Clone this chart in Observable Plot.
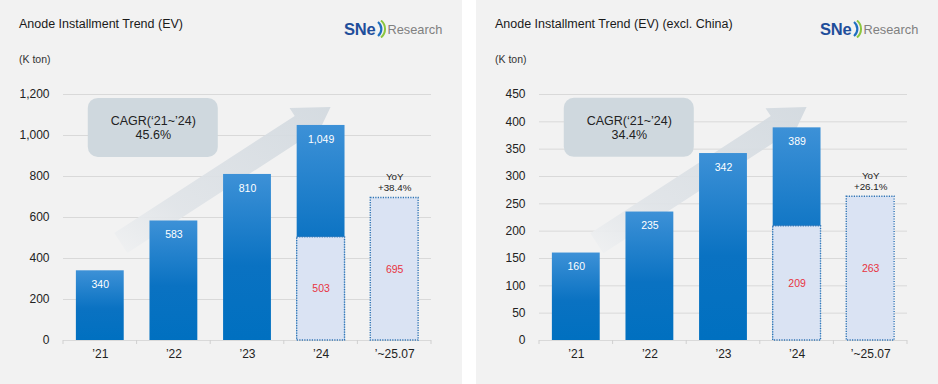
<!DOCTYPE html>
<html>
<head>
<meta charset="utf-8">
<script src="https://cdn.jsdelivr.net/npm/d3@7"></script>
<script src="https://cdn.jsdelivr.net/npm/@observablehq/plot@0.6"></script>
<style>
  body { margin: 0; background: #fff; font-family: "Liberation Sans", Arial, sans-serif; }
  #wrap { position: relative; width: 938px; height: 384px; overflow: hidden; }
  .panel { position: absolute; top: 0; width: 462px; height: 384px; background: #f2f2f2; }
  .title { position: absolute; left: 19px; top: 17px; font-size: 12.5px; color: #1a1a1a; white-space: nowrap; }
  .unit { position: absolute; left: 19px; top: 53px; font-size: 10.5px; color: #333; }
  .logo { position: absolute; left: 344px; top: 19px; height: 20px; display: flex; align-items: center; white-space: nowrap; }
  .logo b { font-size: 16.5px; color: #1f4e9b; letter-spacing: -0.2px; font-weight: bold; }
  .logo span { font-size: 12.8px; color: #808080; margin-left: 1px; }
  .chart { position: absolute; left: 0; top: 70px; }
</style>
</head>
<body>
<svg width="0" height="0" style="position:absolute">
  <defs>
    <linearGradient id="barGrad" x1="0" y1="0" x2="0" y2="1">
      <stop offset="0" stop-color="#3d91d7"/>
      <stop offset="0.55" stop-color="#0a72c2"/>
      <stop offset="1" stop-color="#0070c0"/>
    </linearGradient>
    <linearGradient id="arrowGrad" x1="0" y1="1" x2="1" y2="0">
      <stop offset="0" stop-color="#f0f1f2"/>
      <stop offset="0.3" stop-color="#e0e4e8"/>
      <stop offset="1" stop-color="#d2d9df"/>
    </linearGradient>
  </defs>
</svg>
<div id="wrap"></div>
<script>
// ---------- data ----------
const categories = ["’21", "’22", "’23", "’24", "’~25.07"];
const evTotal = [340, 583, 810, 1049, null];
const evYtd = [null, null, null, 503, 695];
const exTotal = [160, 235, 342, 389, null];
const exYtd = [null, null, null, 209, 263];
const evTicks = [0, 200, 400, 600, 800, 1000, 1200];
const exTicks = [0, 50, 100, 150, 200, 250, 300, 350, 400, 450];
const titles = ["Anode Installment Trend (EV)", "Anode Installment Trend (EV) (excl. China)"];
const unitLabel = "(K ton)";
const cagrLabel = "CAGR(‘21~’24)";
const cagrValues = ["45.6%", "34.4%"];
const yoyLabel = "YoY";
const yoyValues = ["+38.4%", "+26.1%"];
// annotation anchors, in data values (box centre level, arrow start / tip level)
const cagrBoxLevel = [1037, 389];
const arrowFromLevel = [473, 177];
const arrowToLevel = [1137, 426];

// ---------- drawing ----------
const fmt = d3.format(",");
const FONT = '"Liberation Sans", Arial, sans-serif';

function arrowMark(fromCat, fromVal, toCat, toVal) {
  return (index, scales) => {
    const {x, y} = scales;
    const bw = x.bandwidth();
    const S = [x(fromCat) + bw / 2 + 21, y(fromVal)];
    const T = [x(toCat) + bw / 2 + 10, y(toVal)];
    const dx = T[0] - S[0], dy = T[1] - S[1], len = Math.hypot(dx, dy);
    const u = [dx / len, dy / len], n = [-u[1], u[0]];
    const L = 35, H = 21.5, W = 12;
    const B = [T[0] - L * u[0], T[1] - L * u[1]];
    const p = (P, k) => [P[0] + k * n[0], P[1] + k * n[1]];
    const pts = [p(S, W), p(B, W), p(B, H), T, p(B, -H), p(B, -W), p(S, -W)];
    return d3.create("svg:path")
      .attr("d", "M" + pts.map(q => q.join(",")).join("L") + "Z")
      .attr("fill", "url(#arrowGrad)")
      .attr("fill-opacity", 0.92)
      .node();
  };
}

function boxMark(cat, val) {
  return (index, scales) => {
    const {x, y} = scales;
    const cx = x(cat) + x.bandwidth() / 2 + 53, cy = y(val);
    return d3.create("svg:rect")
      .attr("x", cx - 65).attr("y", cy - 29.5)
      .attr("width", 130).attr("height", 59)
      .attr("rx", 10).attr("fill", "#cfd8de")
      .node();
  };
}

function boundaryTicks(index, scales, values, dimensions) {
  const {width, marginLeft, marginRight} = dimensions;
  const y0 = scales.y(0);
  const n = categories.length;
  const step = (width - marginLeft - marginRight) / n;
  const g = d3.create("svg:g").attr("stroke", "#d0d0d0");
  for (let i = 0; i <= n; i++) {
    const xx = marginLeft + i * step;
    g.append("line").attr("x1", xx).attr("x2", xx).attr("y1", y0).attr("y2", y0 + 4);
  }
  return g.node();
}

function makeChart(k, total, ytd, ticks) {
  const rows = categories.map((c, i) => ({cat: c, total: total[i], ytd: ytd[i]}));
  const totalRows = rows.filter(d => d.total != null);
  const ytdRows = rows.filter(d => d.ytd != null);
  const last = [rows[rows.length - 1]];
  return Plot.plot({
    width: 462,
    height: 300,
    marginTop: 24,
    marginBottom: 30,
    marginLeft: 63,
    marginRight: 31,
    style: {background: "transparent", fontFamily: FONT, fontSize: "12px", color: "#222", overflow: "visible"},
    x: {domain: categories, paddingInner: 0.35, paddingOuter: 0.175, round: false, label: null, tickSize: 0, tickPadding: 9},
    y: {domain: [0, ticks[ticks.length - 1]], ticks: ticks, tickFormat: fmt, tickSize: 0, tickPadding: 14, label: null},
    marks: [
      Plot.ruleY(ticks, {stroke: "#d9d9d9", strokeWidth: 1}),
      boundaryTicks,
      arrowMark(categories[0], arrowFromLevel[k], categories[3], arrowToLevel[k]),
      boxMark(categories[0], cagrBoxLevel[k]),
      Plot.text([cagrLabel + "\n" + cagrValues[k]], {
        x: () => categories[0], y: () => cagrBoxLevel[k], text: d => d, dx: 53,
        fontSize: 12.5, lineHeight: 1.12, lineAnchor: "middle", fill: "#222"
      }),
      Plot.barY(totalRows, {x: "cat", y: "total", fill: "url(#barGrad)"}),
      Plot.barY(ytdRows, {x: "cat", y: "ytd", fill: "#dae3f3", stroke: "#2f74b5", strokeWidth: 1.4, strokeDasharray: "1.2,1.3"}),
      Plot.text(totalRows, {x: "cat", y: "total", text: d => fmt(d.total), dy: 14, fill: "white", fontSize: 10.5}),
      Plot.text(ytdRows, {x: "cat", y: d => d.ytd / 2, text: d => fmt(d.ytd), fill: "#e8333f", fontSize: 10.5}),
      Plot.text(last, {x: "cat", y: "ytd", text: () => yoyLabel + "\n" + yoyValues[k], dy: -16,
        lineAnchor: "middle", fontSize: 9.8, lineHeight: 1.13, fill: "#222"})
    ]
  });
}

const wrap = document.getElementById("wrap");
const datasets = [[evTotal, evYtd, evTicks], [exTotal, exYtd, exTicks]];
datasets.forEach(([total, ytd, ticks], k) => {
  const panel = document.createElement("div");
  panel.className = "panel";
  panel.style.left = (k === 0 ? 0 : 476) + "px";
  panel.innerHTML = `
    <div class="title"></div>
    <div class="logo"><b>SNe</b><svg width="11" height="18" viewBox="0 0 11 18">
      <path d="M2 2 A9 9 0 0 1 2 16" fill="none" stroke="#1f6fc0" stroke-width="2.2"/>
      <path d="M5 0.5 A11 11 0 0 1 5 17.5" fill="none" stroke="#8cc63f" stroke-width="2"/>
    </svg><span>Research</span></div>
    <div class="unit"></div>
    <div class="chart"></div>`;
  panel.querySelector(".title").textContent = titles[k];
  panel.querySelector(".unit").textContent = unitLabel;
  panel.querySelector(".chart").appendChild(makeChart(k, total, ytd, ticks));
  wrap.appendChild(panel);
});
</script>
</body>
</html>
